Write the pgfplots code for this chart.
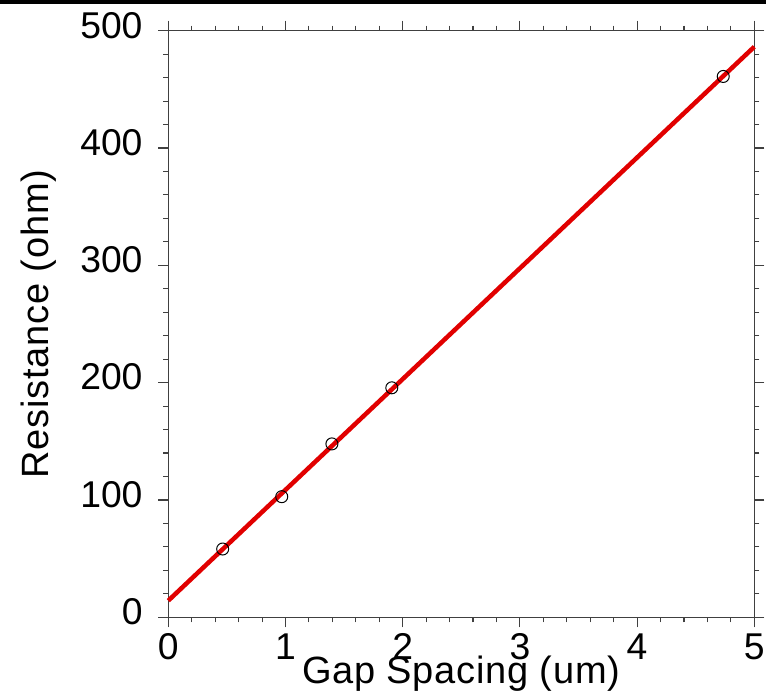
\documentclass[border=0pt]{standalone}
\usepackage{pgfplots}
\pgfplotsset{compat=1.18}
\usepackage{fontspec}
\setmainfont{Liberation Sans}
\newfontfamily\labelfont{Liberation Sans}[LetterSpace=2]
\definecolor{fitred}{RGB}{225,0,0}
\begin{document}
\begin{tikzpicture}
\begin{axis}[
  scale only axis, width=586pt, height=586.6pt,
  xmin=0, xmax=5, ymin=0, ymax=500,
  xtick={0,1,2,3,4,5}, ytick={0,100,200,300,400,500},
  minor x tick num=4, minor y tick num=4,
  tick align=outside, major tick length=10pt, minor tick length=5pt,
  axis line style={line width=1.3pt, black!75},
  every tick/.style={line width=1.1pt, black!75},
  /pgf/number format/assume math mode=true,
  ticklabel style={font=\fontsize{37.3}{39}\selectfont, inner sep=0pt},
  xticklabel style={anchor=north, yshift=-6pt},
  yticklabel style={anchor=east, xshift=-15.6pt, yshift=5.5pt},
  xlabel={Gap Spacing (um)}, ylabel={Resistance (ohm)},
  label style={font=\labelfont\fontsize{38}{40}\selectfont, inner sep=0pt},
  xlabel style={at={([yshift=-66pt]rel axis cs:0.5,0)}, anchor=base},
  ylabel style={at={([xshift=-119.3pt]rel axis cs:0,0.5)}, rotate=0, anchor=base},
  clip=false,
]
\addplot[fitred, line width=4.5pt, no markers] coordinates {(0,14.2) (5,486.3)};
\addplot[only marks, mark=o, mark size=6pt, mark options={black, line width=1pt}] coordinates {
  (0.464,58.2) (0.968,102.8) (1.396,147.8) (1.907,195.6) (4.735,461.0)};
\coordinate (ll) at (rel axis cs:0,0);
\coordinate (ur) at (rel axis cs:1,1);
\coordinate (tl) at (rel axis cs:0,1);
\end{axis}
\pgfresetboundingbox
\useasboundingbox ([shift={(-168.3pt,-76.7pt)}]ll) rectangle ([shift={(11.7pt,30.7pt)}]ur);
\fill[black] ([shift={(-168.3pt,26.7pt)}]tl) rectangle ([shift={(11.7pt,30.7pt)}]ur);
\end{tikzpicture}
\end{document}
